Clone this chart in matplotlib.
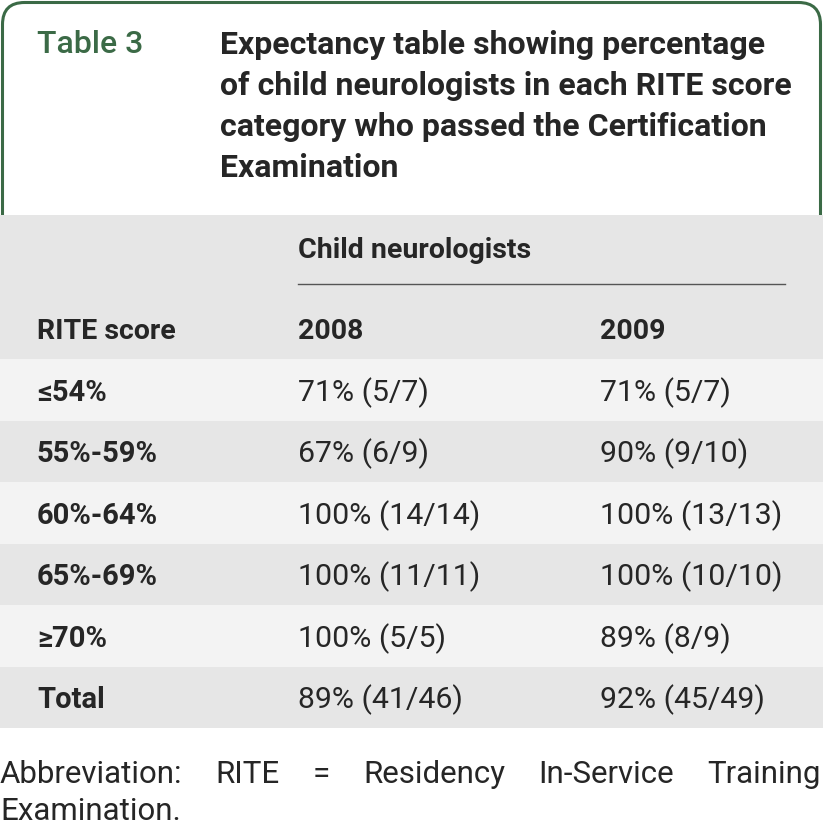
import matplotlib.pyplot as plt
from matplotlib.patches import FancyBboxPatch, Rectangle

plt.rcParams['font.family'] = ['Roboto', 'DejaVu Sans']

# table content
table_label = 'Table 3'
title_lines = ['Expectancy table showing percentage',
               'of child neurologists in each RITE score',
               'category who passed the Certification',
               'Examination']
group_header = 'Child neurologists'
col_headers = ['RITE score', '2008', '2009']
rite_scores = ['≤54%', '55%-59%', '60%-64%', '65%-69%', '≥70%', 'Total']
pass_2008 = ['71% (5/7)', '67% (6/9)', '100% (14/14)', '100% (11/11)', '100% (5/5)', '89% (41/46)']
pass_2009 = ['71% (5/7)', '90% (9/10)', '100% (13/13)', '100% (10/10)', '89% (8/9)', '92% (45/49)']
footnote_words = ['Abbreviation:', 'RITE', '=', 'Residency', 'In-Service', 'Training']
footnote_last = 'Examination.'

green = '#3b6a46'
dark_gray = '#e6e6e6'
light_gray = '#f3f3f3'
txt = '#262626'

W, H = 823, 825
fig = plt.figure(figsize=(W / 100, H / 100), dpi=100)
ax = fig.add_axes([0, 0, 1, 1])
ax.set_xlim(0, W)
ax.set_ylim(H, 0)
ax.axis('off')

# green rounded frame around the caption
frame = FancyBboxPatch((2.5, 2.5), W - 5, 300, boxstyle='round,pad=0,rounding_size=22',
                       facecolor='white', edgecolor=green, linewidth=2.2, zorder=1)
ax.add_patch(frame)

ax.text(37, 53, table_label, color=green, fontsize=23, fontweight='medium', va='baseline', zorder=3)
for i, line in enumerate(title_lines):
    ax.text(220, 54 + i * 41, line, color=txt, fontsize=23, fontweight='bold', va='baseline', zorder=3)

# header block
head_top, head_bot = 215, 359
ax.add_patch(Rectangle((0, head_top), W, head_bot - head_top, facecolor=dark_gray, edgecolor='none', zorder=2))
ax.text(298, 258, group_header, color=txt, fontsize=20.5, fontweight='bold', va='baseline', zorder=3)
ax.plot([298, 785], [284, 284], color='#555555', linewidth=1.0, zorder=3)
col_x = [37, 298, 600]
for x, h in zip(col_x, col_headers):
    ax.text(x, 339, h, color=txt, fontsize=20.5, fontweight='bold', va='baseline', zorder=3)

# body rows
row_h = 61.5
for i, (lab, a, b) in enumerate(zip(rite_scores, pass_2008, pass_2009)):
    top = head_bot + i * row_h
    fc = light_gray if i % 2 == 0 else dark_gray
    ax.add_patch(Rectangle((0, top), W, row_h, facecolor=fc, edgecolor='none', zorder=2))
    base = top + row_h / 2 + 11
    ax.text(col_x[0], base, lab, color=txt, fontsize=21, fontweight='bold', va='baseline', zorder=3)
    ax.text(col_x[1], base, a, color=txt, fontsize=21.8, va='baseline', zorder=3)
    ax.text(col_x[2], base, b, color=txt, fontsize=21.8, va='baseline', zorder=3)

# justified footnote
fig.canvas.draw()
renderer = fig.canvas.get_renderer()
inv = ax.transData.inverted()
words = []
for w in footnote_words:
    t = ax.text(0, 783, w, color=txt, fontsize=22.5, va='baseline', zorder=3)
    bb = t.get_window_extent(renderer)
    x0, _ = inv.transform((bb.x0, 0))
    x1, _ = inv.transform((bb.x1, 0))
    words.append((t, x1 - x0))
left, right = 0, 821
total = sum(wd for _, wd in words)
gap = (right - left - total) / (len(words) - 1)
x = left
for t, wd in words:
    t.set_x(x)
    x += wd + gap
ax.text(0, 820, footnote_last, color=txt, fontsize=22.5, va='baseline', zorder=3)

fig.savefig('out.png', dpi=100)
